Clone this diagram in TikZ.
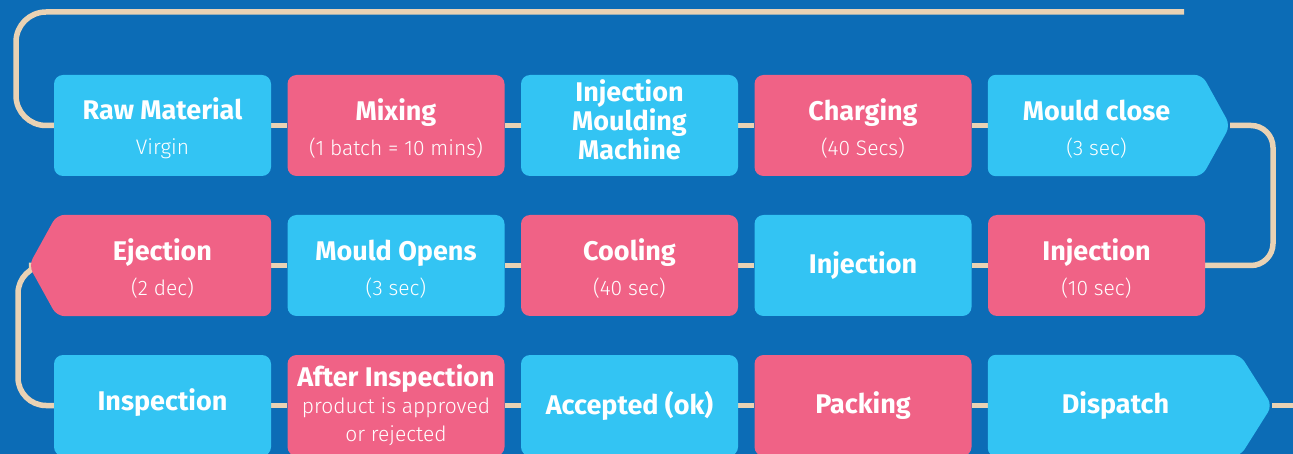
\documentclass[tikz,border=0pt]{standalone}
\usepackage{fontspec}
\setmainfont{Fira Sans}
\newfontfamily\lightfont{Fira Sans Light}
\usetikzlibrary{calc}
\definecolor{bgBlue}{HTML}{0C6CB6}
\definecolor{boxCyan}{HTML}{33C4F3}
\definecolor{boxPink}{HTML}{F06286}
\definecolor{lineBeige}{HTML}{E9D2B4}
\pgfdeclarelayer{background}
\pgfsetlayers{background,main}
\tikzset{
  stage/.style={rounded corners=9pt, minimum width=217pt, minimum height=101pt,
    inner sep=0pt, align=center, text=white, font=\bfseries\fontsize{27}{31}\selectfont},
  cyanbox/.style={stage, fill=boxCyan},
  pinkbox/.style={stage, fill=boxPink},
  link/.style={draw=lineBeige, line width=5.5pt},
}
\newcommand{\stagenote}[1]{{\lightfont\mdseries\fontsize{21}{25}\selectfont #1}}

\begin{document}
\begin{tikzpicture}[x=1pt, y=-1pt]
  \useasboundingbox (0,0) rectangle (1293,454);
  \clip (0,0) rectangle (1293,454);
  % row 1
  \node[cyanbox] (raw) at (162.5,125.5) {\rule{0pt}{27pt}Raw Material\\[4pt]\stagenote{Virgin}};
  \node[pinkbox] (mix) at (396,125.5) {\rule{0pt}{27pt}Mixing\\[4pt]\stagenote{(1 batch = 10 mins)}};
  \node[cyanbox] (imm) at (629.5,125.5) {Injection\\[-2pt]Moulding\\[-2pt]Machine\rule[-12pt]{0pt}{12pt}};
  \node[pinkbox] (charge) at (863,125.5) {\rule{0pt}{27pt}Charging\\[4pt]\stagenote{(40 Secs)}};
  \node[stage] (mc) at (1096.5,125.5) {\rule{0pt}{27pt}Mould close\\[4pt]\stagenote{(3 sec)}};
  % row 2
  \node[stage] (eject) at (162.5,265.5) {\rule{0pt}{27pt}Ejection\\[4pt]\stagenote{(2 dec)}};
  \node[cyanbox] (mopen) at (396,265.5) {\rule{0pt}{27pt}Mould Opens\\[4pt]\stagenote{(3 sec)}};
  \node[pinkbox] (cool) at (629.5,265.5) {\rule{0pt}{27pt}Cooling\\[4pt]\stagenote{(40 sec)}};
  \node[cyanbox] (inj) at (863,265.5) {Injection};
  \node[pinkbox] (injTime) at (1096.5,265.5) {\rule{0pt}{27pt}Injection\\[4pt]\stagenote{(10 sec)}};
  % row 3
  \node[cyanbox] (insp) at (162.5,405.5) {Inspection\rule[-11pt]{0pt}{11pt}};
  \node[pinkbox] (after) at (396,405.5) {After Inspection\\[-4pt]\stagenote{product is approved}\\[-3pt]\stagenote{or rejected}};
  \node[cyanbox] (accept) at (629.5,405.5) {Accepted (ok)};
  \node[pinkbox] (pack) at (863,405.5) {Packing};
  \node[stage, minimum width=255pt] (disp) at (1115.5,405.5) {Dispatch};

  \coordinate (mcTip) at ($(mc.east)+(25,0)$);
  \coordinate (ejTip) at ($(eject.west)+(-25,0)$);
  \coordinate (dispTip) at ($(disp.east)+(29,0)$);
  \coordinate (topEnd) at (1184,12);
  \coordinate (botEnd) at (1300,405.5);

  \begin{pgfonlayer}{background}
    \clip (0,0) rectangle (1293,454);
    \fill[bgBlue] (0,0) rectangle (1293,454);
    % connectors
    \draw[link, rounded corners=30pt] (raw.west) -- (16,125.5) -- (16,12) -- (topEnd);
    \draw[link] (raw.east) -- (mix.west);
    \draw[link] (mix.east) -- (imm.west);
    \draw[link] (imm.east) -- (charge.west);
    \draw[link] (charge.east) -- (mc.west);
    \draw[link, rounded corners=22pt] (mcTip) -- (1273,125.5) -- (1273,265.5) -- (injTime.east);
    \draw[link] (injTime.west) -- (inj.east);
    \draw[link] (inj.west) -- (cool.east);
    \draw[link] (cool.west) -- (mopen.east);
    \draw[link] (mopen.west) -- (eject.east);
    \draw[link, rounded corners=28pt] (ejTip) -- (18,265.5) -- (18,405.5) -- (insp.west);
    \draw[link] (insp.east) -- (after.west);
    \draw[link] (after.east) -- (accept.west);
    \draw[link] (accept.east) -- (pack.west);
    \draw[link] (pack.east) -- (disp.west);
    \draw[link] (dispTip) -- (botEnd);
    % arrow shaped boxes
    \fill[boxCyan, rounded corners=8pt] (mc.north west) -- ($(mc.north east)+(-3,0)$)
      -- (mcTip) -- ($(mc.south east)+(-3,0)$) -- (mc.south west) -- cycle;
    \fill[boxPink, rounded corners=8pt] (eject.north east) -- ($(eject.north west)+(3,0)$)
      -- (ejTip) -- ($(eject.south west)+(3,0)$) -- (eject.south east) -- cycle;
    \fill[boxCyan, rounded corners=8pt] (disp.north west) -- ($(disp.north east)+(-3,0)$)
      -- (dispTip) -- ($(disp.south east)+(-3,0)$) -- (disp.south west) -- cycle;
  \end{pgfonlayer}
\end{tikzpicture}
\end{document}
